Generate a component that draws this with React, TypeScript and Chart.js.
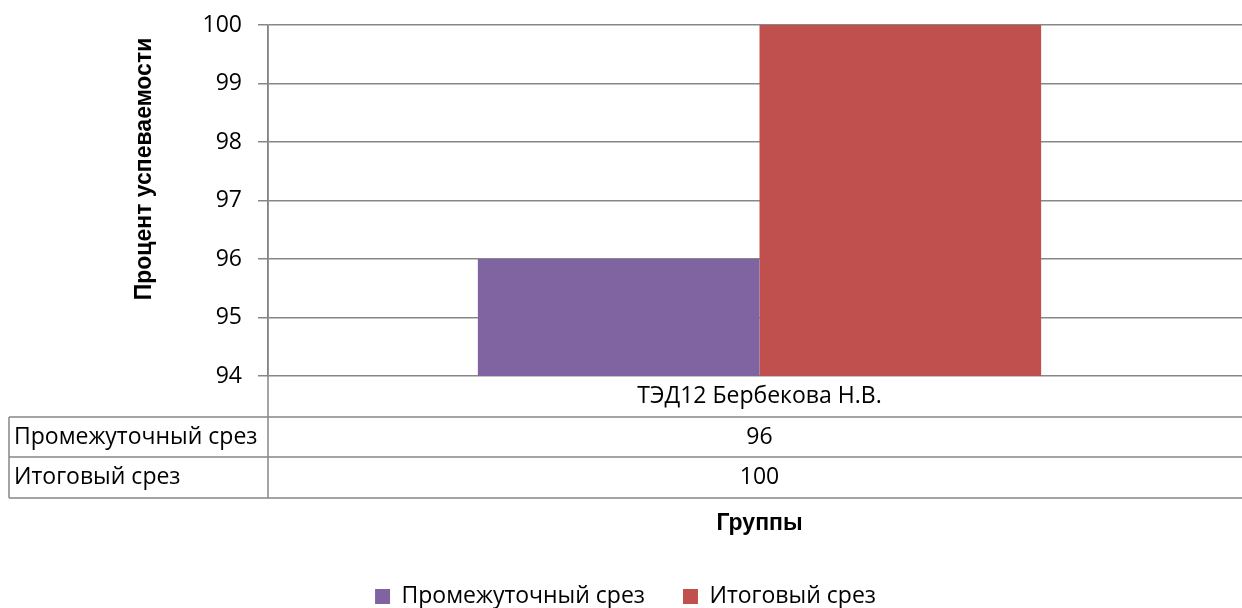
import React, { useEffect, useRef } from 'react';
import { Chart, registerables } from 'chart.js';

Chart.register(...registerables);

// ---- data ----
const categories: string[] = ['ТЭД12 Бербекова Н.В.'];
const seriesNames: string[] = ['Промежуточный срез', 'Итоговый срез'];
const intermediateValues: number[] = [96];
const finalValues: number[] = [100];
const yMin = 94;
const yMax = 100;
const yStep = 1;
const yAxisTitle = 'Процент успеваемости';
const xAxisTitle = 'Группы';

// ---- styles ----
const COLORS = ['#8064A2', '#C0504D'];
const GRID = '#878787';
const TEXT = '#000000';
const FONT = '"Open Sans", sans-serif';
const BOLD_FONT = '"Liberation Sans", Arial, sans-serif';
const CANVAS_W = 1251;
const CANVAS_H = 608;

const tablePlugin = {
  id: 'excelDataTable',
  afterLayout(chart: any) {
    if (chart.legend) {
      chart.legend.top += 10;
      chart.legend.bottom += 10;
    }
  },
  afterDraw(chart: any) {
    const ctx: CanvasRenderingContext2D = chart.ctx;
    const { left, right, top, bottom } = chart.chartArea;
    const xs = chart.scales.x;
    const tableLeft = 9;
    const rows = [bottom, bottom + 41, bottom + 81, bottom + 122];
    ctx.save();
    ctx.strokeStyle = GRID;
    ctx.lineWidth = 1.5;
    ctx.beginPath();
    for (let i = 1; i < rows.length; i++) {
      ctx.moveTo(tableLeft, rows[i]);
      ctx.lineTo(right, rows[i]);
    }
    ctx.moveTo(left, top);
    ctx.lineTo(left, rows[3]);
    ctx.moveTo(tableLeft, rows[1]);
    ctx.lineTo(tableLeft, rows[3]);
    ctx.stroke();

    ctx.fillStyle = TEXT;
    ctx.font = `23px ${FONT}`;
    ctx.textBaseline = 'middle';
    // category row
    ctx.textAlign = 'center';
    categories.forEach((c, i) => {
      const cx = xs.getPixelForValue(i);
      ctx.fillText(c, cx, (rows[0] + rows[1]) / 2);
    });
    // series rows
    const seriesData = [intermediateValues, finalValues];
    seriesData.forEach((vals, s) => {
      const cy = (rows[s + 1] + rows[s + 2]) / 2;
      ctx.textAlign = 'left';
      ctx.fillText(seriesNames[s], tableLeft + 5, cy);
      ctx.textAlign = 'center';
      vals.forEach((v, i) => {
        ctx.fillText(String(v), xs.getPixelForValue(i), cy);
      });
    });

    // y axis title
    ctx.font = `bold 23px ${BOLD_FONT}`;
    ctx.translate(145, 169);
    ctx.rotate(-Math.PI / 2);
    ctx.textAlign = 'center';
    ctx.fillText(yAxisTitle, 0, 0);
    ctx.restore();
  },
};

export default function App() {
  const canvasRef = useRef<HTMLCanvasElement | null>(null);

  useEffect(() => {
    const canvas = canvasRef.current;
    if (!canvas) return;
    const chart = new Chart(canvas, {
      type: 'bar',
      data: {
        labels: categories,
        datasets: [
          {
            label: seriesNames[0],
            data: intermediateValues,
            backgroundColor: COLORS[0],
            borderWidth: 0,
          },
          {
            label: seriesNames[1],
            data: finalValues,
            backgroundColor: COLORS[1],
            borderWidth: 0,
          },
        ],
      },
      options: {
        responsive: false,
        animation: false,
        devicePixelRatio: 1,
        layout: { padding: { top: 25, left: 0, right: 0, bottom: 0 } },
        datasets: {
          bar: { categoryPercentage: 0.573, barPercentage: 1 },
        },
        scales: {
          x: {
            grid: { display: false },
            border: { display: false },
            ticks: { display: false },
            title: {
              display: true,
              text: xAxisTitle,
              color: TEXT,
              font: { family: BOLD_FONT, size: 23, weight: 'bold' },
              padding: { top: 0, bottom: 0 },
            },
            afterFit(scale: any) {
              const lh = scale.chart.legend ? scale.chart.legend.height : 0;
              scale.height = scale.chart.height - 376 - lh;
            },
          },
          y: {
            min: yMin,
            max: yMax,
            ticks: {
              stepSize: yStep,
              color: TEXT,
              font: { family: FONT, size: 23 },
              padding: 16,
            },
            grid: {
              color: GRID,
              lineWidth: 1.5,
              tickLength: 10,
              drawTicks: true,
            },
            border: { display: true, color: GRID, width: 1.5 },
            afterFit(scale: any) {
              scale.width = 268;
              scale.paddingTop = 0;
              scale.paddingBottom = 0;
            },
          },
        },
        plugins: {
          legend: {
            position: 'bottom',
            labels: {
              boxWidth: 15,
              boxHeight: 15,
              padding: 38,
              color: TEXT,
              font: { family: FONT, size: 23 },
            },
          },
          tooltip: { enabled: false },
        },
      },
      plugins: [tablePlugin],
    });
    return () => chart.destroy();
  }, []);

  return (
    <div
      style={{
        position: 'absolute',
        left: 0,
        top: 0,
        width: 1242,
        height: 608,
        overflow: 'hidden',
        background: '#ffffff',
      }}
    >
      <canvas
        ref={canvasRef}
        width={CANVAS_W}
        height={CANVAS_H}
        style={{ display: 'block', width: CANVAS_W, height: CANVAS_H }}
      />
    </div>
  );
}
